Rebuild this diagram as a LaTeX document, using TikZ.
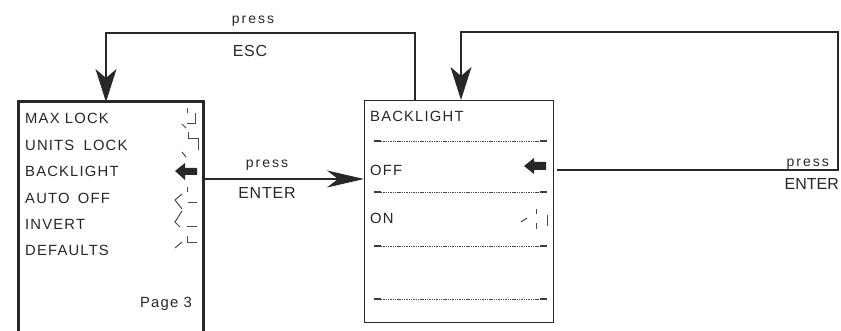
\documentclass[tikz,border=0pt]{standalone}
\usepackage{fontspec}
\setmainfont{Liberation Sans}
\newfontfamily\boxfont{Liberation Sans}[LetterSpace=8]
\newfontfamily\keyfont{Liberation Sans}[LetterSpace=5]
\newfontfamily\plainkeyfont{Liberation Sans}
\newfontfamily\pressfont{Liberation Sans}[LetterSpace=14]
\usetikzlibrary{arrows.meta}
\definecolor{ink}{RGB}{40,40,40}
\begin{document}
\begin{tikzpicture}[x=1pt,y=-1pt,
  txt/.style={inner sep=0pt, anchor=base west, text=ink, font=\boxfont\fontsize{14.8}{15}\selectfont},
  presslbl/.style={inner sep=0pt, anchor=base, text=ink, font=\pressfont\fontsize{14}{14}\selectfont},
  keylbl/.style={inner sep=0pt, anchor=base, text=ink, font=\keyfont\fontsize{16}{16}\selectfont},
  conn/.style={draw=ink, line width=1.2pt},
  bigtip/.style={-{Stealth[length=33pt,width=21pt,inset=9pt]}},
  midtip/.style={-{Stealth[length=37pt,width=17pt,inset=11pt]}},
  seg/.style={draw=ink!85, line width=1pt},
  sep/.style={draw=ink!90, line width=1.1pt},
  sepdot/.style={draw=ink!85, line width=0.9pt, dash pattern=on 1.4pt off 0.9pt}]
\useasboundingbox (0,0) rectangle (841,331);
\fill[white] (0,0) rectangle (841,331);

% boxes
\node[inner sep=0pt, minimum width=185pt, minimum height=229pt, anchor=north west] (lbox) at (18,102) {};
\draw[draw=ink, line width=3pt] (lbox.south west) -- (lbox.north west) -- (lbox.north east) -- (lbox.south east);
\node[draw=ink, line width=1.2pt, inner sep=0pt, minimum width=189pt, minimum height=222pt, anchor=north west] (rbox) at (364,100) {};

% left box texts
\node[txt] (t1) at (25,124) {MAX LOCK};
\node[txt] (t2) at (25,150.5) {UNITS\hspace{4pt} LOCK};
\node[txt] (t3) at (25,177) {BACKLIGHT};
\node[txt] (t4) at (25,204) {AUTO\hspace{3pt} OFF};
\node[txt] (t5) at (25,230) {INVERT};
\node[txt] (t6) at (25,255) {DEFAULTS};
\node[txt, anchor=base east] (t7) at (192,308) {Page 3};

% left box icons
\draw[seg] (187,108) -- (187,113);
\draw[seg] (195,113) -- (195,124) -- (187,124);
\draw[seg] (182,124) -- (186,128);
\draw[seg] (188,132) -- (188,139) -- (198,139) -- (198,150);
\draw[seg] (182,152) -- (186,157);
\fill[ink] (175,171) -- (185,163) -- (185,168) -- (197,168) -- (197,175) -- (185,175) -- (185,180) -- cycle;
\draw[seg] (187,187) -- (187,192);
\draw[seg] (182,194) -- (175,200) -- (182,209);
\draw[seg] (188,203) -- (197,203);
\draw[seg] (182,211) -- (175,222) -- (180,227);
\draw[seg] (187,227) -- (197,227);
\draw[seg] (187,236) -- (187,243) -- (197,243);
\draw[seg] (175,248) -- (182,242);

% right box texts
\node[txt] (r1) at (370,122) {BACKLIGHT};
\node[txt] (r2) at (370,176) {OFF};
\node[txt] (r3) at (370,224) {ON};

% separators
\foreach \yy in {141,192,246,299}{
  \draw[sep] (374,\yy) -- (381,\yy);
  \draw[sepdot] (381,\yy) -- (540,\yy);
  \draw[sep] (540,\yy) -- (547,\yy);
}

% right box icons
\fill[ink] (524,166) -- (534,158) -- (534,162) -- (546,162) -- (546,170) -- (534,170) -- (534,174) -- cycle;
\draw[seg] (521,222) -- (527,218);
\draw[seg] (536,209) -- (536,214);
\draw[seg] (536,223) -- (536,229);
\draw[seg] (547,215) -- (547,226);

% connectors
\draw[conn, bigtip] (rbox.north -| 415,0) |- (106,33) -- (lbox.north -| 106,0);
\node[presslbl] (p1) at (253,24) {press};
\node[keylbl] (k1) at (250,57) {ESC};

\draw[conn, midtip] (lbox.east |- 0,179) -- (rbox.west |- 0,179);
\node[presslbl] (p2) at (267,168) {press};
\node[keylbl] (k2) at (267,199) {ENTER};

\coordinate (offout) at (557,170);
\draw[conn, bigtip] (offout) -- (838,170) -- (838,32) -- (461,32) -- (rbox.north -| 461,0);
\node[presslbl, anchor=base east] (p3) at (829,167) {press};
\node[keylbl, anchor=base east, font=\plainkeyfont\fontsize{16}{16}\selectfont] (k3) at (839,190) {ENTER};
\end{tikzpicture}
\end{document}
